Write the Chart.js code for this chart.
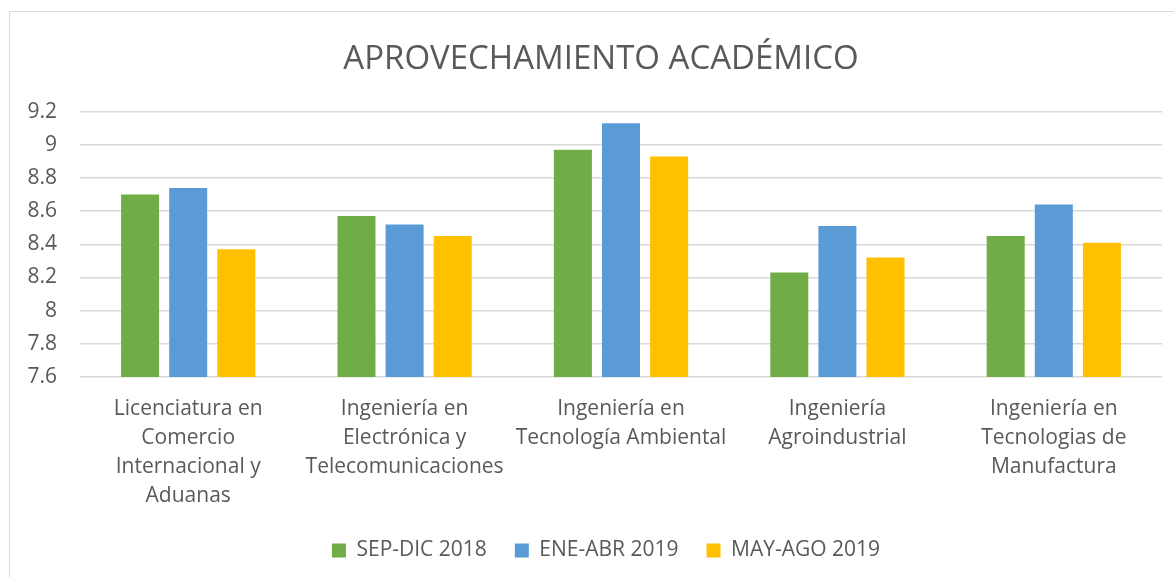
<!DOCTYPE html>
<html>
<head>
<meta charset="utf-8">
<script src="https://cdn.jsdelivr.net/npm/chart.js@4/dist/chart.umd.min.js"></script>
<style>
  html, body { margin: 0; padding: 0; background: #fff; }
  #wrap { width: 1174px; height: 577px; position: relative; }
</style>
</head>
<body>
<div id="wrap"><canvas id="chart" width="1174" height="577"></canvas></div>
<script>
// Data
const categories = [
    ['Licenciatura en', 'Comercio', 'Internacional y', 'Aduanas'],
    ['Ingeniería en', 'Electrónica y', 'Telecomunicaciones'],
    ['Ingeniería en', 'Tecnología Ambiental'],
    ['Ingeniería', 'Agroindustrial'],
    ['Ingeniería en', 'Tecnologias de', 'Manufactura']
];
const seriesNames = ['SEP-DIC 2018', 'ENE-ABR 2019', 'MAY-AGO 2019'];
const sepDic2018 = [8.70, 8.57, 8.97, 8.23, 8.45];
const eneAbr2019 = [8.74, 8.52, 9.13, 8.51, 8.64];
const mayAgo2019 = [8.37, 8.45, 8.93, 8.32, 8.41];
const yTicks = { min: 7.6, max: 9.2, step: 0.2 };

const textColor = '#595959';
const gridColor = '#d9d9d9';
const fontFamily = "'Open Sans', sans-serif";

// light frame around the chart, like the office chart box
const framePlugin = {
    id: 'frame',
    beforeDraw(chart) {
        const ctx = chart.ctx;
        ctx.save();
        ctx.fillStyle = '#fff';
        ctx.fillRect(0, 0, chart.width, chart.height);
        ctx.strokeStyle = gridColor;
        ctx.lineWidth = 1;
        ctx.strokeRect(9.5, 11.5, chart.width + 20, chart.height + 20);
        ctx.restore();
    }
};

// title and legend sit a bit right of the canvas centre in the original
const nudgePlugin = {
    id: 'nudge',
    afterLayout(chart) {
        const t = chart.titleBlock;
        if (t) { t.left += 20; t.right += 20; }
        const l = chart.legend;
        if (l) { l.left += 25; l.right += 25; }
    }
};

const ctx = document.getElementById('chart').getContext('2d');
new Chart(ctx, {
    type: 'bar',
    data: {
        labels: categories,
        datasets: [
            { label: seriesNames[0], data: sepDic2018, backgroundColor: '#70AD47' },
            { label: seriesNames[1], data: eneAbr2019, backgroundColor: '#5B9BD5' },
            { label: seriesNames[2], data: mayAgo2019, backgroundColor: '#FFC000' }
        ]
    },
    options: {
        responsive: false,
        animation: false,
        layout: { padding: { left: 0, right: 12, top: 0, bottom: 6 } },
        datasets: {
            bar: { categoryPercentage: 0.667, barPercentage: 0.79 }
        },
        plugins: {
            title: {
                display: true,
                text: 'APROVECHAMIENTO ACADÉMICO',
                color: textColor,
                font: { family: fontFamily, size: 33, weight: 'normal' },
                padding: { top: 40, bottom: 32 }
            },
            legend: {
                position: 'bottom',
                labels: {
                    color: textColor,
                    font: { family: fontFamily, size: 21 },
                    boxWidth: 14,
                    boxHeight: 14,
                    padding: 28
                }
            },
            tooltip: { enabled: false }
        },
        scales: {
            x: {
                grid: { display: false, drawTicks: false },
                border: { display: false },
                ticks: {
                    color: textColor,
                    font: { family: fontFamily, size: 21, lineHeight: 1.38 },
                    padding: 18,
                    maxRotation: 0,
                    autoSkip: false
                },
                afterFit(scale) { scale.height = 135; }
            },
            y: {
                min: yTicks.min,
                max: yTicks.max,
                grid: { color: gridColor, lineWidth: 1.5, drawTicks: false },
                border: { display: false },
                ticks: {
                    stepSize: yTicks.step,
                    color: textColor,
                    font: { family: fontFamily, size: 21 },
                    padding: 23,
                    callback: v => String(Number(v.toFixed(1)))
                },
                afterFit(scale) { scale.width = 80; }
            }
        }
    },
    plugins: [framePlugin, nudgePlugin]
});
</script>
</body>
</html>
